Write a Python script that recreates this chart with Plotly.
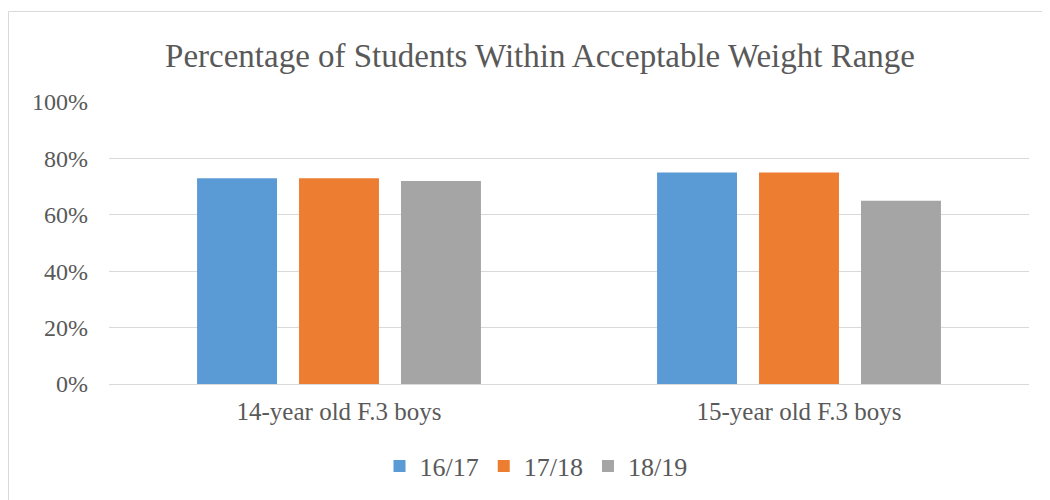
import plotly.graph_objects as go

categories = ["14-year old F.3 boys", "15-year old F.3 boys"]
series_names = ["16/17", "17/18", "18/19"]
values_1617 = [0.73, 0.75]
values_1718 = [0.73, 0.75]
values_1819 = [0.72, 0.65]
colors = ["#5B9BD5", "#ED7D31", "#A5A5A5"]

# page body has an 8px margin; work in figure coordinates (page - 8)
OFF = 8
W, H = 1042, 492
L, T = 109 - OFF, 102 - OFF
plot_right, plot_bottom = 1029 - OFF, 384 - OFF
R, B = W - plot_right, H - plot_bottom
pw, ph = plot_right - L, plot_bottom - T

def px(x):
    return (x - OFF - L) / pw

def py(y):
    return (plot_bottom - (y - OFF)) / ph

font_family = "Liberation Serif"
text_color = "#595959"

fig = go.Figure()
for name, vals, col in zip(series_names, [values_1617, values_1718, values_1819], colors):
    fig.add_trace(go.Bar(name=name, x=categories, y=vals, marker=dict(color=col, line=dict(width=0))))

fig.update_layout(
    width=W, height=H,
    margin=dict(l=L, r=R, t=T, b=B, autoexpand=False),
    paper_bgcolor="white", plot_bgcolor="white",
    barmode="group", bargap=0.335, bargroupgap=0.216,
    font=dict(family=font_family, color=text_color, size=24),
    title=dict(text="Percentage of Students Within Acceptable Weight Range",
               x=(540 - OFF) / W, xanchor="center", y=1 - (55 - OFF) / H, yanchor="middle",
               font=dict(family=font_family, size=33, color=text_color)),
    xaxis=dict(showgrid=False, showline=True, linecolor="#d9d9d9", linewidth=1,
               ticks="", tickfont=dict(size=25), ticklabelstandoff=5),
    yaxis=dict(range=[0, 1], tickvals=[0, 0.2, 0.4, 0.6, 0.8, 1.0],
               ticktext=["0%", "20%", "40%", "60%", "80%", "100%"],
               showgrid=True, gridcolor="#d9d9d9", gridwidth=1,
               zeroline=False, showline=False, ticks="", ticklabelstandoff=20,
               tickfont=dict(size=24)),
    legend=dict(orientation="h", x=px(536), xanchor="center", y=py(466), yanchor="middle",
                font=dict(size=26), itemwidth=30, traceorder="normal"),
    showlegend=True,
    shapes=[dict(type="rect", xref="paper", yref="paper",
                 x0=px(8.5), x1=px(1070), y0=py(11.5), y1=py(530),
                 line=dict(color="#d9d9d9", width=1), layer="below")],
)

fig.write_html("out.html")
